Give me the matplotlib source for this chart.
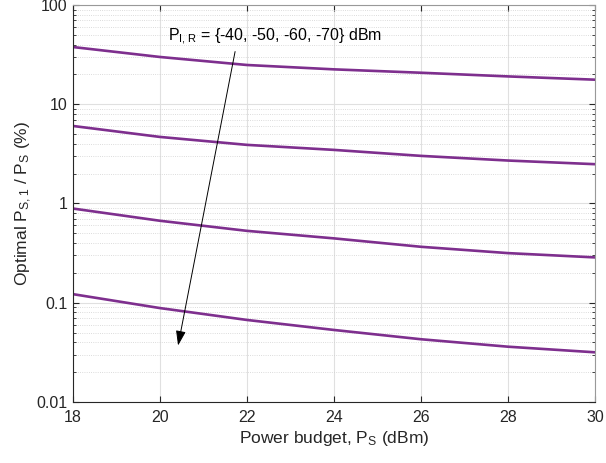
import matplotlib
matplotlib.use("Agg")
import matplotlib.pyplot as plt
from matplotlib.ticker import LogLocator, NullFormatter, FixedLocator

plt.rcParams['font.family'] = ['Liberation Sans', 'DejaVu Sans']
plt.rcParams['mathtext.default'] = 'regular'

# power budget (dBm)
ps = [18, 20, 22, 24, 26, 28, 30]
# optimal P_S,1 / P_S (%) for P_I,R = -40, -50, -60, -70 dBm
ratio_m40 = [37.8, 30.0, 24.9, 22.5, 20.8, 19.1, 17.7]
ratio_m50 = [6.05, 4.69, 3.90, 3.47, 3.02, 2.71, 2.49]
ratio_m60 = [0.89, 0.67, 0.53, 0.445, 0.366, 0.316, 0.286]
ratio_m70 = [0.122, 0.0883, 0.067, 0.0531, 0.0428, 0.036, 0.0316]
curves = [ratio_m40, ratio_m50, ratio_m60, ratio_m70]

fig = plt.figure(figsize=(6.06, 4.63), dpi=100)
ax = fig.add_axes([0.120, 0.132, 0.862, 0.857])

for c in curves:
    ax.plot(ps, c, color='#7E2F8E', lw=1.9)

ax.set_yscale('log')
ax.set_xlim(18, 30)
ax.set_ylim(0.01, 100)
ax.set_xticks([18, 20, 22, 24, 26, 28, 30])
ax.yaxis.set_major_locator(FixedLocator([0.01, 0.1, 1, 10, 100]))
ax.set_yticklabels(['0.01', '0.1', '1', '10', '100'])
ax.yaxis.set_minor_locator(LogLocator(base=10, subs=range(2, 10)))
ax.yaxis.set_minor_formatter(NullFormatter())

ax.grid(True, which='major', color='#e0e0e0', lw=0.8, ls='-')
ax.grid(True, which='minor', axis='y', color='#d0d0d0', lw=0.6, ls=':')
ax.set_axisbelow(True)

ax.tick_params(which='both', direction='in', top=True, right=True,
               labelsize=11.5, colors='#262626')
ax.tick_params(axis='x', pad=6)
ax.tick_params(which='major', length=4)
ax.tick_params(which='minor', length=2.5)
for s in ax.spines.values():
    s.set_color('#262626')
    s.set_linewidth(0.8)
ax.spines['top'].set_color('#999999')
ax.spines['right'].set_color('#999999')

ax.set_xlabel('Power budget, P$_S$ (dBm)', fontsize=12.5, color='#262626', labelpad=3)
ax.set_ylabel('Optimal P$_{S,1}$ / P$_S$ (%)', fontsize=12.5, color='#262626', labelpad=2)

ax.annotate('', xy=(20.42, 0.037), xytext=(21.73, 34.0),
            arrowprops=dict(arrowstyle='-|>,head_length=0.9,head_width=0.3',
                            color='black', lw=0.7, shrinkA=0, shrinkB=0))
ax.text(20.2, 48, 'P$_{I,R}$ = {-40, -50, -60, -70} dBm', fontsize=11.5,
        va='center', ha='left', color='black')

fig.savefig('out.png', dpi=100)
